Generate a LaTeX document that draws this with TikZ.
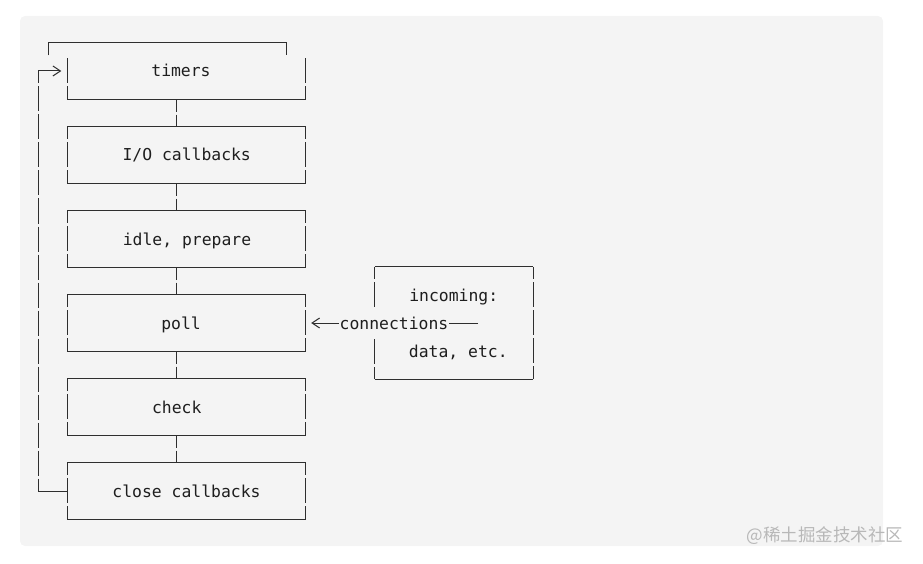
\documentclass[tikz,border=0pt]{standalone}
\usepackage{fontspec}
\usetikzlibrary{arrows.meta}
\newfontfamily\codefont{DejaVu Sans Mono}
\newfontfamily\cjkfont{Noto Sans CJK SC}
\definecolor{bgc}{HTML}{F4F4F4}
\definecolor{linec}{HTML}{2E2E2E}
\definecolor{txtc}{HTML}{1E1E1E}
\definecolor{wmc}{HTML}{B8B8B8}
\tikzset{
  box/.style={minimum width=238pt, minimum height=56pt, inner sep=0pt, draw=none},
  txt/.style={font=\codefont\fontsize{16.4}{20}\selectfont, text=txtc, inner sep=0pt, anchor=base},
  hline/.style={draw=linec, line width=1pt},
  vline/.style={draw=linec, line width=1pt, dash pattern=on 25pt off 3pt, dash phase=12.5pt},
  chev/.style={-{Straight Barb[length=7.5pt,width=10pt,line width=1pt]}},
}
\newcommand\drawasciibox[1]{%
  \draw[hline] (#1.north west) -- (#1.north east);
  \draw[hline] (#1.south west) -- (#1.south east);
  \draw[vline] (#1.north west) -- (#1.south west);
  \draw[vline] (#1.north east) -- (#1.south east);}
\begin{document}
\begin{tikzpicture}[x=1pt,y=-1pt]
\useasboundingbox (0,0) rectangle (923,564);
\fill[bgc, rounded corners=5pt] (20,16) rectangle (883,546);

% boxes
\node[box] (timers) at (186.5,71) {};
\node[box] (io)     at (186.5,155) {};
\node[box] (idle)   at (186.5,239) {};
\node[box] (poll)   at (186.5,323) {};
\node[box] (check)  at (186.5,407) {};
\node[box] (close)  at (186.5,491) {};
\node[minimum width=158pt, minimum height=112pt, inner sep=0pt] (inc) at (454,323) {};

% labels
\node[txt] (timersT) at (181,77) {timers};
\node[txt] (ioT)     at (186.7,161) {I/O callbacks};
\node[txt] (idleT)   at (187,245) {idle, prepare};
\node[txt] (pollT)   at (181,329) {poll};
\node[txt] (checkT)  at (176.7,413) {check};
\node[txt] (closeT)  at (186.5,497) {close callbacks};
\node[txt] (incT1)   at (453.7,301) {incoming:};
\node[txt] (incT2)   at (458.3,357) {data, etc.};

% timers box (shifted top)
\draw[hline] (48,55.5) -- (48,43) -- (286,43) -- (286,55.5);
\draw[hline] (timers.south west) -- (timers.south east);
\draw[vline, dash phase=0pt] ([yshift=-15.5pt]timers.north west) -- (timers.south west);
\draw[vline, dash phase=0pt] ([yshift=-15.5pt]timers.north east) -- (timers.south east);

\drawasciibox{io}
\drawasciibox{idle}
\drawasciibox{poll}
\drawasciibox{check}
\drawasciibox{close}

% incoming box
\draw[hline] (inc.north west) -- (inc.north east);
\draw[hline] (inc.south west) -- (inc.south east);
\draw[vline] (inc.north east) -- (inc.south east);
\draw[vline] (inc.north west) -- ++(0,41);
\draw[vline] (inc.south west) -- ++(0,-41);

% connectors between phases
\draw[vline] ([xshift=109.2pt]timers.south west) -- ([xshift=109.2pt]io.north west);
\draw[vline] ([xshift=109.2pt]io.south west) -- ([xshift=109.2pt]idle.north west);
\draw[vline] ([xshift=109.2pt]idle.south west) -- ([xshift=109.2pt]poll.north west);
\draw[vline] ([xshift=109.2pt]poll.south west) -- ([xshift=109.2pt]check.north west);
\draw[vline] ([xshift=109.2pt]check.south west) -- ([xshift=109.2pt]close.north west);

% loop back
\coordinate (loopTop) at (38,71);
\coordinate (loopBot) at (38,491);
\draw[vline] (loopTop) -- (loopBot);
\draw[hline] (loopBot) -- (close.west);
\draw[hline, chev, shorten >=6pt] (loopTop) -- (timers.west);

% connections arrow
\coordinate (connEnd) at (478,323);
\draw[hline, chev, shorten >=5.5pt] (connEnd) -- (poll.east);
\node[txt, fill=bgc, inner xsep=0.5pt, inner ysep=2pt] (connT) at (394,329) {connections};

% watermark
\node[font=\cjkfont\fontsize{17.5}{20}\selectfont, text=wmc, inner sep=0pt] (wm) at (825,536) {@稀土掘金技术社区};
\end{tikzpicture}
\end{document}
